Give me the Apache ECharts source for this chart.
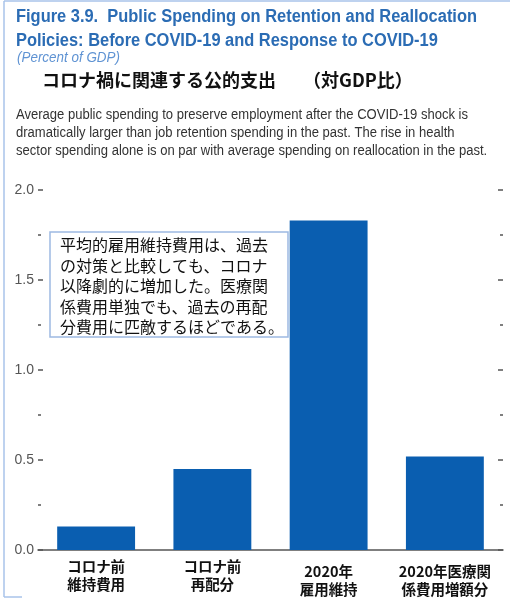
<!DOCTYPE html>
<html>
<head>
<meta charset="utf-8">
<style>
  html, body { margin: 0; padding: 0; background: #fff; }
  #chart { width: 510px; height: 601px; }
</style>
<script src="https://cdn.jsdelivr.net/npm/echarts@6/dist/echarts.min.js"></script>
</head>
<body>
<div id="chart"></div>
<script>
// Categories (two-line labels) and spending values, percent of GDP
const categories = ['コロナ前\n維持費用', 'コロナ前\n再配分', '2020年\n雇用維持', '2020年医療関\n係費用増額分'];
const spending = [0.13, 0.45, 1.83, 0.52];

// Axis range and tick step
const yMin = 0;
const yMax = 2.0;
const yStep = 0.5;

const titleLines = [
  'Figure 3.9.  Public Spending on Retention and Reallocation',
  'Policies: Before COVID-19 and Response to COVID-19'
];
const unitText = '(Percent of GDP)';
const jpHeading = 'コロナ禍に関連する公的支出　　（対GDP比）';
const descLines = [
  'Average public spending to preserve employment after the COVID-19 shock is',
  'dramatically larger than job retention spending in the past. The rise in health',
  'sector spending alone is on par with average spending on reallocation in the past.'
];
const noteLines = [
  '平均的雇用維持費用は、過去',
  'の対策と比較しても、コロナ',
  '以降劇的に増加した。医療関',
  '係費用単独でも、過去の再配',
  '分費用に匹敵するほどである。'
];

const sans = '"Liberation Sans", Arial, sans-serif';
const jp = '"Noto Sans CJK JP", "Noto Sans", sans-serif';
const blue = '#0a5eb0';
const frame = '#a9c3ea';

// Condensed look: squeeze a regular face horizontally to a given line width
function squeeze(font, text, width) {
  const ctx = document.createElement('canvas').getContext('2d');
  ctx.font = font;
  return width / ctx.measureText(text).width;
}
const titleFont = 'bold 18px ' + sans;
const descFont = '14px ' + sans;
const unitFont = 'italic 14px ' + sans;
const titleScale = squeeze(titleFont, titleLines[0], 461);
const descScale = squeeze(descFont, descLines[0], 452);
const unitScale = squeeze(unitFont, unitText, 103);

const chart = echarts.init(document.getElementById('chart'), null, { renderer: 'canvas' });

const tickStyle = { color: '#555', width: 1.5 };

chart.setOption({
  animation: false,
  grid: { left: 38, right: 7, top: 190, bottom: 51, containLabel: false },
  xAxis: {
    type: 'category',
    data: categories.map((c, i) => i < 2 ? c : { value: c, textStyle: { padding: [5, 0, 0, 0] } }),
    axisLine: { show: true, lineStyle: { color: '#555', width: 1.5 } },
    axisTick: { show: false },
    axisLabel: {
      color: '#111',
      fontFamily: jp,
      fontWeight: 'bold',
      fontSize: 14.5,
      lineHeight: 18,
      margin: 7,
      interval: 0
    }
  },
  yAxis: [
    {
      type: 'value',
      min: yMin,
      max: yMax,
      interval: yStep,
      axisLine: { show: false },
      axisTick: { show: true, inside: true, length: 5, lineStyle: tickStyle },
      minorTick: { show: true, splitNumber: 2, length: 3, lineStyle: tickStyle },
      splitLine: { show: false },
      axisLabel: {
        color: '#555',
        fontFamily: sans,
        fontSize: 14,
        margin: 4,
        formatter: v => v.toFixed(1)
      }
    },
    {
      type: 'value',
      position: 'right',
      min: yMin,
      max: yMax,
      interval: yStep,
      axisLine: { show: false },
      axisTick: { show: true, inside: true, length: 5, lineStyle: tickStyle },
      minorTick: { show: true, splitNumber: 2, length: 3, lineStyle: tickStyle },
      splitLine: { show: false },
      axisLabel: { show: false }
    }
  ],
  series: [
    {
      type: 'bar',
      data: spending,
      barWidth: '67%',
      itemStyle: { color: blue },
      yAxisIndex: 0
    }
  ],
  graphic: [
    // frame lines
    { type: 'line', shape: { x1: 4, y1: 1, x2: 510, y2: 1 }, style: { stroke: frame, lineWidth: 1.5 } },
    { type: 'line', shape: { x1: 4, y1: 1, x2: 4, y2: 597 }, style: { stroke: frame, lineWidth: 1.5 } },
    { type: 'line', shape: { x1: 4, y1: 597, x2: 22, y2: 597 }, style: { stroke: frame, lineWidth: 1.5 } },
    // heading block
    {
      type: 'text', x: 16, y: 5, scaleX: titleScale,
      style: {
        text: titleLines.join('\n'), fill: '#2b6cb4', lineHeight: 24,
        font: titleFont, verticalAlign: 'top'
      }
    },
    {
      type: 'text', x: 17, y: 51, scaleX: unitScale,
      style: { text: unitText, fill: '#5f93d3', font: unitFont, verticalAlign: 'top' }
    },
    {
      type: 'text', x: 42, y: 71,
      style: { text: jpHeading, fill: '#111', font: 'bold 18px ' + jp, verticalAlign: 'top' }
    },
    {
      type: 'text', x: 16, y: 106, scaleX: descScale,
      style: {
        text: descLines.join('\n'), fill: '#333', lineHeight: 18,
        font: descFont, verticalAlign: 'top'
      }
    },
    // note box
    {
      type: 'rect', shape: { x: 50, y: 232, width: 238, height: 105 },
      style: { fill: '#fff', stroke: '#9db9e2', lineWidth: 1.5 }, z: 100
    },
    {
      type: 'text', x: 60, y: 235, z: 101,
      style: {
        text: noteLines.join('\n'), fill: '#111', lineHeight: 20.5,
        font: '16px ' + jp, verticalAlign: 'top'
      }
    }
  ]
});
</script>
</body>
</html>
